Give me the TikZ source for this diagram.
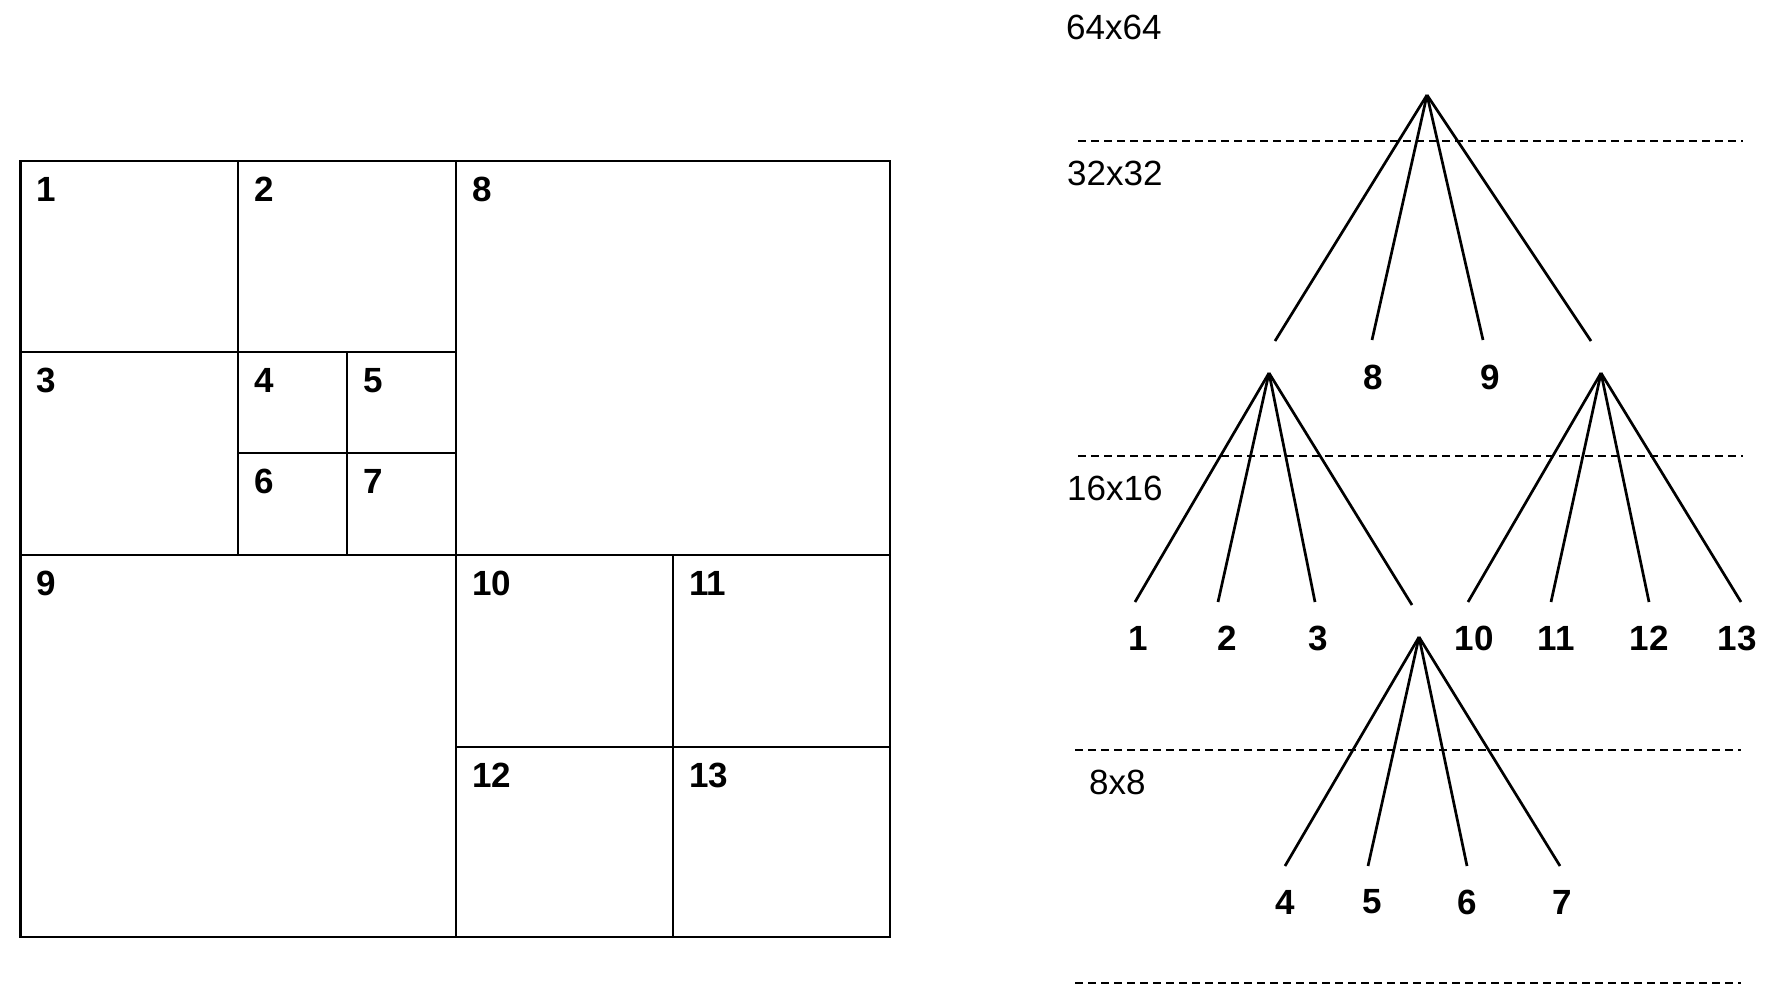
\documentclass[tikz,border=0pt]{standalone}
\usepackage{fontspec}
\setmainfont{Liberation Sans}
\begin{document}
\begin{tikzpicture}[x=1pt,y=-1pt,
  cell/.style={draw,line width=2.7pt},
  lab/.style={font=\fontsize{35}{35}\selectfont\bfseries,anchor=north west,inner sep=0},
  tl/.style={font=\fontsize{35}{35}\selectfont\bfseries,inner sep=0},
  lvl/.style={font=\fontsize{35}{35}\selectfont,inner sep=0,anchor=west},
  edge/.style={line width=2.7pt},
  sep/.style={line width=1.3pt,dash pattern=on 8pt off 5pt}]
\useasboundingbox (0,0) rectangle (1779,1004);
% grid
\draw[cell] (20.5,161) rectangle (890,937);
\draw[cell] (456,161) -- (456,937);
\draw[cell] (20.5,555) -- (890,555);
\draw[cell] (238,161) -- (238,555);
\draw[cell] (20.5,352) -- (456,352);
\draw[cell] (347,352) -- (347,555);
\draw[cell] (238,453) -- (456,453);
\draw[cell] (673,555) -- (673,937);
\draw[cell] (456,747) -- (890,747);
\foreach \t/\x/\y in {1/20.5/161,2/238/161,8/456/161,3/20.5/352,4/238/352,5/347/352,6/238/453,7/347/453,9/20.5/555,10/456/555,11/673/555,12/456/747,13/673/747}
  \node[lab] (g\t) at (\x+16,\y+16) {\t};
% levels
\node[lvl] (l64) at (1066,27) {64x64};
\node[lvl] (l32) at (1067,173) {32x32};
\node[lvl] (l16) at (1067,488) {16x16};
\node[lvl] (l8) at (1089,782) {8x8};
\draw[sep] (1078,141) -- (1743,141);
\draw[sep] (1078,456) -- (1743,456);
\draw[sep] (1075,750) -- (1741,750);
\draw[sep] (1075,983) -- (1741,983);
% tree
\begin{scope}[xshift=-5pt]
\coordinate (R) at (1432,95);
\coordinate (A) at (1274,373);
\coordinate (B) at (1606,373);
\coordinate (C) at (1424,637);
\coordinate (a1) at (1280,341);
\coordinate (b1) at (1596,341);
\coordinate (c1) at (1417,605);
\node[tl] (n8) at (1378,377) {8};
\node[tl] (n9) at (1495,377) {9};
\draw[edge] (R) -- (a1); \draw[edge] (R) -- (1377,340); \draw[edge] (R) -- (1488,340); \draw[edge] (R) -- (b1);
\foreach \t/\x in {1/1143,2/1232,3/1323}
  \node[tl] (n\t) at (\x,638) {\t};
\draw[edge] (A) -- (1140,602); \draw[edge] (A) -- (1223,602); \draw[edge] (A) -- (1320,602); \draw[edge] (A) -- (c1);
\foreach \t/\x in {10/1479,11/1561,12/1654,13/1742}
  \node[tl] (n\t) at (\x,638) {\t};
\draw[edge] (B) -- (1473,602); \draw[edge] (B) -- (1556,602); \draw[edge] (B) -- (1654,602); \draw[edge] (B) -- (1746,602);
\foreach \t/\x in {4/1290,5/1377,6/1472,7/1567}
  \node[tl] (n\t) at (\x,902) {\t};
\draw[edge] (C) -- (1290,866); \draw[edge] (C) -- (1373,866); \draw[edge] (C) -- (1472,866); \draw[edge] (C) -- (1565,866);
\end{scope}
\end{tikzpicture}
\end{document}
